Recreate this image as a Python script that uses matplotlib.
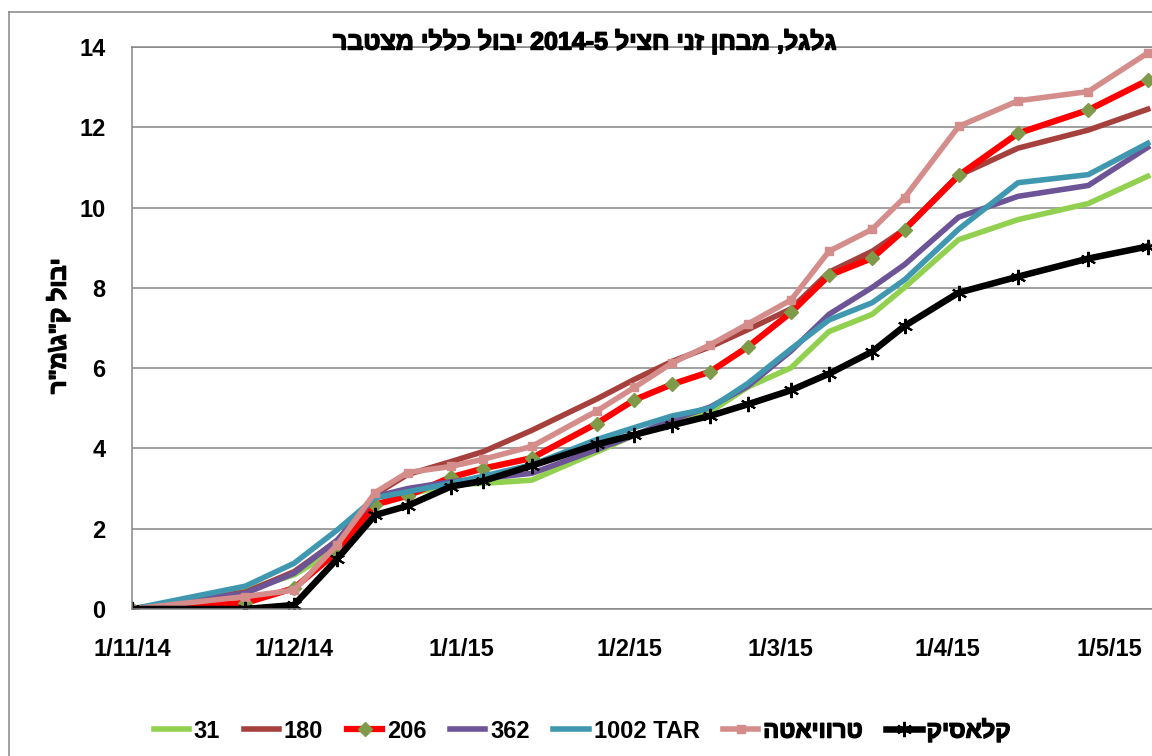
import re
import datetime as dt
import matplotlib
matplotlib.use("Agg")
import matplotlib.pyplot as plt
import matplotlib.dates as mdates
import matplotlib.patheffects as pe
from matplotlib.lines import Line2D
from matplotlib.ticker import FuncFormatter

# measurement dates (shared by all varieties)
dates = ["2014-11-01", "2014-11-22", "2014-12-01", "2014-12-09", "2014-12-16",
         "2014-12-22", "2014-12-30", "2015-01-05", "2015-01-14", "2015-01-26",
         "2015-02-02", "2015-02-09", "2015-02-16", "2015-02-23", "2015-03-03",
         "2015-03-10", "2015-03-18", "2015-03-24", "2015-04-03", "2015-04-14",
         "2015-04-27", "2015-05-08"]

# cumulative yield, kg/m2
v31 = [0, 0.47, 0.85, 1.5, 2.6, 2.85, 3.1, 3.13, 3.21, 3.91, 4.33, 4.67, 4.91,
       5.53, 6.01, 6.91, 7.34, 8.01, 9.20, 9.70, 10.10, 10.78]
v180 = [0, 0.42, 0.93, 1.70, 2.85, 3.35, 3.67, 3.92, 4.45, 5.23, 5.72, 6.17,
        6.53, 6.96, 7.48, 8.39, 8.91, 9.46, 10.80, 11.48, 11.93, 12.45]
v206 = [0, 0.15, 0.52, 1.43, 2.60, 2.82, 3.28, 3.50, 3.76, 4.62, 5.21, 5.60,
        5.91, 6.53, 7.39, 8.31, 8.74, 9.45, 10.80, 11.85, 12.43, 13.17]
v362 = [0, 0.39, 0.89, 1.72, 2.80, 3.0, 3.17, 3.25, 3.38, 3.97, 4.33, 4.72,
        5.03, 5.55, 6.43, 7.34, 8.01, 8.58, 9.76, 10.28, 10.55, 11.50]
v1002 = [0, 0.57, 1.14, 1.97, 2.77, 2.92, 3.13, 3.31, 3.59, 4.22, 4.52, 4.81,
         5.00, 5.62, 6.48, 7.20, 7.63, 8.20, 9.46, 10.62, 10.82, 11.60]
vtrav = [0, 0.31, 0.47, 1.60, 2.90, 3.40, 3.55, 3.73, 4.05, 4.93, 5.52, 6.13,
         6.58, 7.10, 7.70, 8.91, 9.46, 10.25, 12.02, 12.66, 12.89, 13.85]
vklas = [0, 0, 0.1, 1.25, 2.34, 2.57, 3.05, 3.19, 3.57, 4.10, 4.34, 4.58, 4.81,
         5.10, 5.45, 5.86, 6.41, 7.05, 7.88, 8.28, 8.73, 9.03]

labels = ["31", "180", "206", "362", "1002 TAR", "טרוויאטה", "קלאסיק"]
title = "גלגל, מבחן זני חציל 2014-5 יבול כללי מצטבר"
ylabel = 'יבול ק"ג\\מ"ר'


def rtl(s):
    # matplotlib has no bidi support, so put hebrew into visual order
    r = s[::-1]
    return re.sub(r"[0-9A-Za-z\-\.]+", lambda m: m.group(0)[::-1], r)


plt.rcParams["font.family"] = ["Liberation Sans", "DejaVu Sans"]
plt.rcParams["font.weight"] = "bold"

# hebrew glyphs come out in regular weight, thicken them a bit
heavy = [pe.withStroke(linewidth=1.0, foreground="black")]

x = [dt.datetime.strptime(d, "%Y-%m-%d") for d in dates]

fig = plt.figure(figsize=(11.52, 7.56), dpi=100)
ax = fig.add_axes([132 / 1152, 1 - 609 / 756, 1 - 132 / 1152, (609 - 47) / 756])

grey = "#868686"
ax.plot(x, v31, color="#92D050", lw=4, label=labels[0])
ax.plot(x, v180, color="#A5403D", lw=4, label=labels[1])
ax.plot(x, v206, color="#FF0000", lw=4.5, marker="D", ms=7.5,
        mfc="#7F9A48", mec="#7F9A48", label=labels[2])
ax.plot(x, v362, color="#6C5496", lw=4, label=labels[3])
ax.plot(x, v1002, color="#3F98B0", lw=4, label=labels[4])
ax.plot(x, vtrav, color="#D48D8B", lw=4, marker="s", ms=6,
        mfc="#D48D8B", mec="#D48D8B", label=rtl(labels[5]))
ax.plot(x, vklas, color="black", lw=4.7, marker=(6, 2, 0), ms=11, mew=1.5,
        mec="black", label=rtl(labels[6]))

ax.set_ylim(0, 14)
ax.set_yticks(range(0, 15, 2))
ax.set_xlim(dt.datetime(2014, 11, 1), dt.datetime(2014, 11, 1) + dt.timedelta(days=188.8))
ax.xaxis.set_major_locator(mdates.MonthLocator())
ax.xaxis.set_major_formatter(FuncFormatter(
    lambda v, p: "{}/{}/{}".format(mdates.num2date(v).day, mdates.num2date(v).month,
                                   mdates.num2date(v).year % 100)))

ax.grid(axis="y", color=grey, lw=1.1)
ax.set_axisbelow(True)
ax.spines["right"].set_visible(False)
for side in ["left", "bottom", "top"]:
    ax.spines[side].set_color(grey)
    ax.spines[side].set_linewidth(1.1)
ax.tick_params(axis="both", length=0, labelsize=17)
ax.tick_params(axis="y", pad=19)
ax.tick_params(axis="x", pad=21)

fig.text(585 / 1152, 1 - 42 / 756, rtl(title), ha="center", va="center",
         fontsize=18, fontweight="bold", path_effects=heavy)
fig.text(58 / 1152, 1 - 326 / 756, rtl(ylabel), ha="center", va="center",
         rotation=90, fontsize=17, fontweight="bold", path_effects=heavy)

leg = fig.legend(loc="center", bbox_to_anchor=(582 / 1152, 1 - 730 / 756), ncol=7,
                 frameon=False, fontsize=17, handlelength=1.5, columnspacing=1.0,
                 handletextpad=0.2, numpoints=1)
for t in leg.get_texts()[5:]:
    t.set_path_effects(heavy)

# outer chart border
fig.add_artist(Line2D([9 / 1152, 9 / 1152], [0, 1 - 12 / 756], color=grey, lw=1.1))
fig.add_artist(Line2D([9 / 1152, 1], [1 - 12 / 756, 1 - 12 / 756], color=grey, lw=1.1))

fig.savefig("out.png", dpi=100)
